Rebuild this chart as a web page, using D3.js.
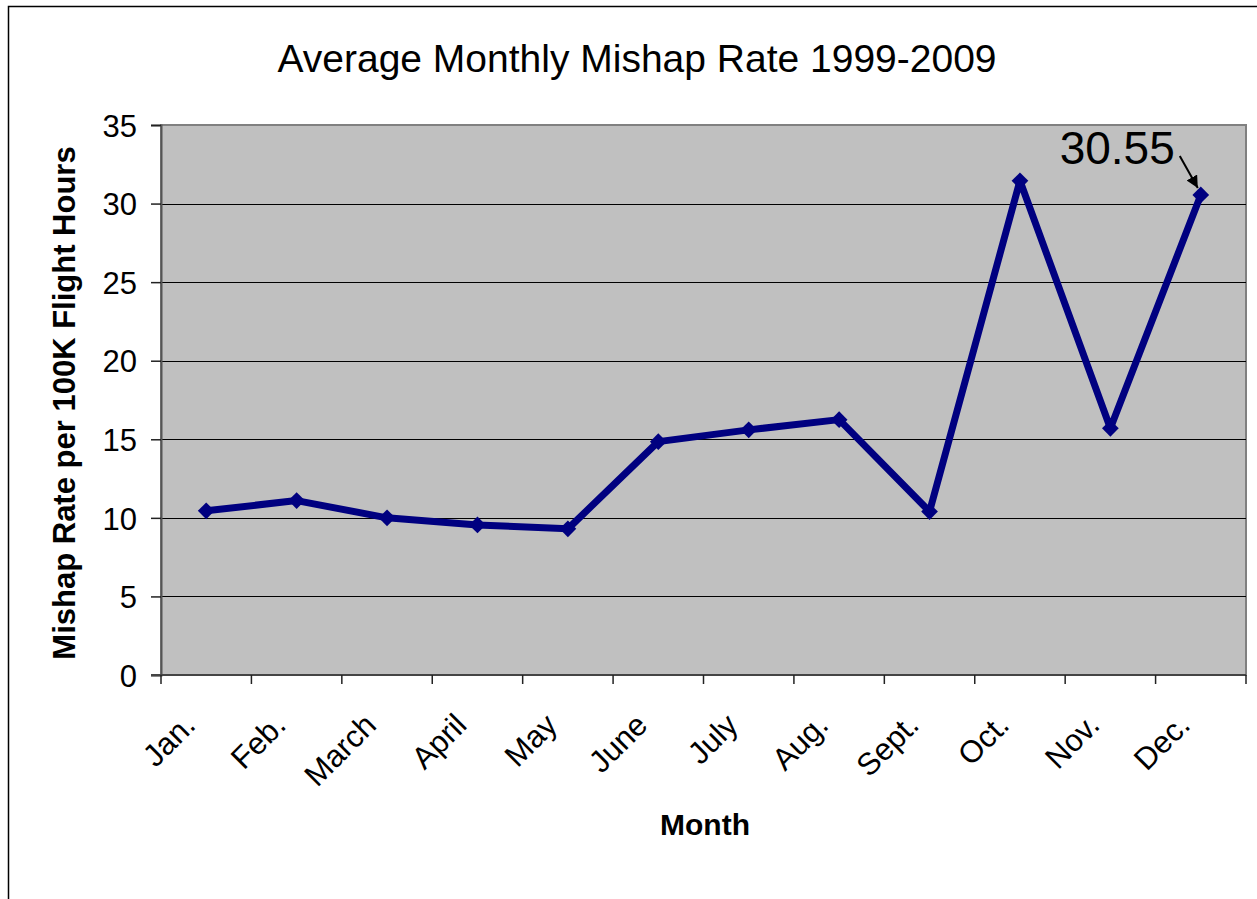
<!DOCTYPE html>
<html>
<head>
<meta charset="utf-8">
<script src="https://cdn.jsdelivr.net/npm/d3@7"></script>
<style>
  body { margin: 0; background: #fff; }
  svg text { font-family: "Liberation Sans", Arial, sans-serif; fill: #000; }
</style>
</head>
<body>
<svg id="chart" width="1257" height="899"></svg>
<script>
// chart data
const months = ["Jan.", "Feb.", "March", "April", "May", "June", "July", "Aug.", "Sept.", "Oct.", "Nov.", "Dec."]
const rates = [10.45, 11.1, 10.0, 9.55, 9.3, 14.85, 15.6, 16.25, 10.4, 31.45, 15.7, 30.55]
const yTicks = [0, 5, 10, 15, 20, 25, 30, 35]
const calloutLabel = "30.55"

const svg = d3.select("#chart")

// outer chart border (right and bottom run off the picture)
svg.append("rect")
    .attr("x", 8.5).attr("y", 6.5)
    .attr("width", 1300).attr("height", 950)
    .attr("fill", "none").attr("stroke", "#000").attr("stroke-width", 1.5)

const plot = {left: 161, top: 125, right: 1246, bottom: 675}

const x = d3.scaleBand().domain(months).range([plot.left, plot.right])
const y = d3.scaleLinear().domain([0, 35]).range([plot.bottom, plot.top])

// plot background
svg.append("rect")
    .attr("x", plot.left).attr("y", plot.top)
    .attr("width", plot.right - plot.left).attr("height", plot.bottom - plot.top)
    .attr("fill", "#c0c0c0").attr("stroke", "#808080").attr("stroke-width", 2)

// horizontal gridlines
svg.append("g")
    .selectAll("line")
    .data(yTicks.filter(d => d > 0 && d < 35))
    .join("line")
    .attr("x1", plot.left).attr("x2", plot.right)
    .attr("y1", d => Math.round(y(d)) + 0.5).attr("y2", d => Math.round(y(d)) + 0.5)
    .attr("stroke", "#000").attr("stroke-width", 1)

// y axis
const yAxis = svg.append("g")
    .attr("transform", `translate(${plot.left},0)`)
    .call(d3.axisLeft(y).tickValues(yTicks).tickSize(10).tickPadding(14))
yAxis.select(".domain").attr("stroke", "#555").attr("stroke-width", 2)
yAxis.selectAll(".tick line").attr("stroke", "#222").attr("stroke-width", 1.5)
yAxis.selectAll(".tick text").attr("font-size", 31).attr("dy", "0.36em")

// x axis with ticks between categories
const xAxis = svg.append("g").attr("transform", `translate(0,${plot.bottom})`)
xAxis.append("line")
    .attr("x1", plot.left - 10).attr("x2", plot.right)
    .attr("y1", 0).attr("y2", 0)
    .attr("stroke", "#444").attr("stroke-width", 2)
const bounds = months.map(m => x(m)).concat([plot.right])
xAxis.selectAll(".xtick")
    .data(bounds)
    .join("line")
    .attr("class", "xtick")
    .attr("x1", d => d).attr("x2", d => d)
    .attr("y1", 0).attr("y2", 9)
    .attr("stroke", "#222").attr("stroke-width", 1.5)
xAxis.selectAll(".xlabel")
    .data(months)
    .join("text")
    .attr("class", "xlabel")
    .attr("text-anchor", "end")
    .attr("font-size", 31)
    .attr("transform", d => `translate(${x(d) + x.bandwidth() / 2 - 9},${52}) rotate(-45)`)
    .text(d => d)

// series line
const line = d3.line()
    .x((d, i) => x(months[i]) + x.bandwidth() / 2)
    .y(d => y(d))
svg.append("path")
    .datum(rates)
    .attr("d", line)
    .attr("fill", "none")
    .attr("stroke", "#000080")
    .attr("stroke-width", 7)
    .attr("stroke-linejoin", "round")

// diamond markers
svg.append("g")
    .selectAll("path")
    .data(rates)
    .join("path")
    .attr("d", d3.symbol(d3.symbolSquare, 140))
    .attr("transform", (d, i) => `translate(${x(months[i]) + x.bandwidth() / 2},${y(d)}) rotate(45)`)
    .attr("fill", "#000080")

// callout for december value
const decX = x("Dec.") + x.bandwidth() / 2
const decY = y(rates[11])
svg.append("defs").append("marker")
    .attr("id", "arrow")
    .attr("viewBox", "0 0 10 10")
    .attr("refX", 10).attr("refY", 5)
    .attr("markerWidth", 6).attr("markerHeight", 6)
    .attr("orient", "auto")
    .append("path").attr("d", "M0,0 L10,5 L0,10 Z").attr("fill", "#000")
svg.append("line")
    .attr("x1", decX - 21).attr("y1", decY - 39)
    .attr("x2", decX - 3).attr("y2", decY - 7)
    .attr("stroke", "#000").attr("stroke-width", 2)
    .attr("marker-end", "url(#arrow)")
svg.append("text")
    .attr("x", decX - 26).attr("y", decY - 31)
    .attr("text-anchor", "end")
    .attr("font-size", 46)
    .text(calloutLabel)

// title
svg.append("text")
    .attr("x", 637).attr("y", 72)
    .attr("text-anchor", "middle")
    .attr("font-size", 39)
    .text("Average Monthly Mishap Rate 1999-2009")

// axis titles
svg.append("text")
    .attr("x", 705).attr("y", 835)
    .attr("text-anchor", "middle")
    .attr("font-size", 30).attr("font-weight", "bold")
    .text("Month")
svg.append("text")
    .attr("transform", `translate(75,${403}) rotate(-90)`)
    .attr("text-anchor", "middle")
    .attr("font-size", 31).attr("font-weight", "bold")
    .text("Mishap Rate per 100K Flight Hours")
</script>
</body>
</html>
